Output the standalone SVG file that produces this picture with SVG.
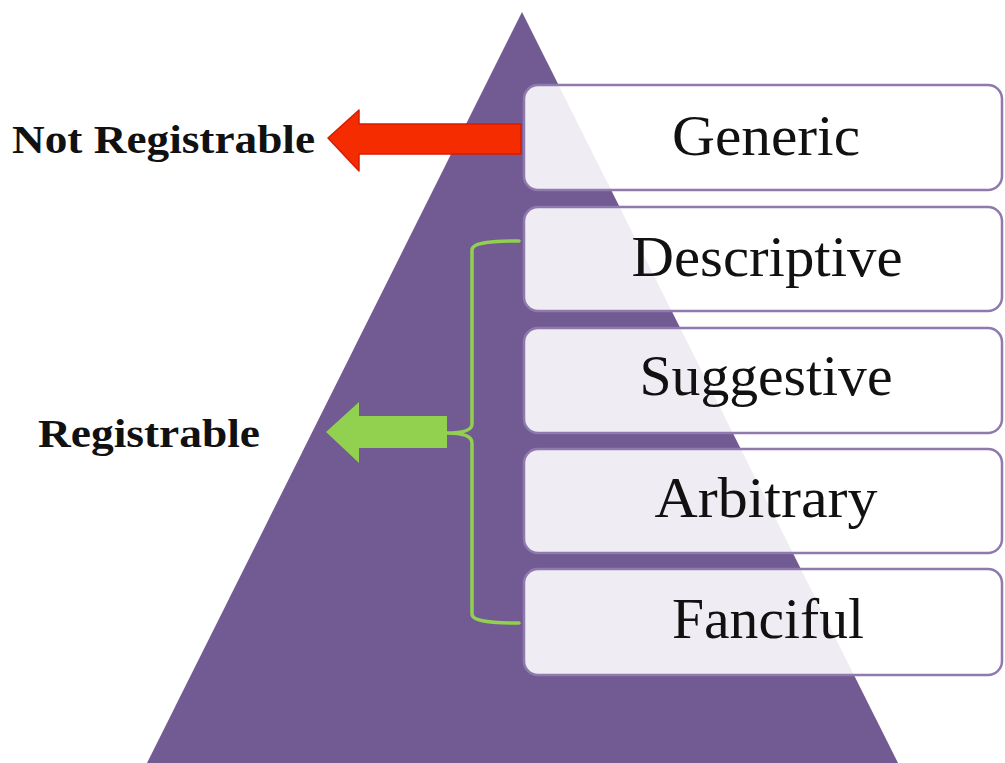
<svg xmlns="http://www.w3.org/2000/svg" width="1005" height="763" viewBox="0 0 1005 763">
<style>
.box{fill:#ffffff;fill-opacity:0.89;stroke:#8f7aae;stroke-width:2.5}
.lbl{font-family:"Liberation Serif",serif;font-size:56px;fill:#111;text-anchor:middle}
.side{font-family:"Liberation Serif",serif;font-weight:bold;font-size:40px;fill:#111}
.br{fill:none;stroke:#92d050;stroke-width:3.5;stroke-linecap:round}
</style>
<rect width="1005" height="763" fill="#ffffff"/>
<g id="pyramid"><polygon points="522,12 898,763 147,763" fill="#725a92"/></g>
<g id="generic"><rect class="box" x="524" y="85" width="478" height="105" rx="14"/><text class="lbl" x="766" y="155" textLength="188" lengthAdjust="spacingAndGlyphs">Generic</text></g>
<g id="descriptive"><rect class="box" x="524" y="207" width="478" height="104" rx="14"/><text class="lbl" x="767" y="276" textLength="271" lengthAdjust="spacingAndGlyphs">Descriptive</text></g>
<g id="suggestive"><rect class="box" x="524" y="328" width="478" height="105" rx="14"/><text class="lbl" x="766" y="395" textLength="253" lengthAdjust="spacingAndGlyphs">Suggestive</text></g>
<g id="arbitrary"><rect class="box" x="524" y="449" width="478" height="104" rx="14"/><text class="lbl" x="766" y="517" textLength="223" lengthAdjust="spacingAndGlyphs">Arbitrary</text></g>
<g id="fanciful"><rect class="box" x="524" y="569" width="478" height="106" rx="14"/><text class="lbl" x="768" y="638" textLength="192" lengthAdjust="spacingAndGlyphs">Fanciful</text></g>
<g id="not-registrable"><text class="side" x="12" y="153" textLength="303" lengthAdjust="spacingAndGlyphs">Not Registrable</text></g>
<g id="registrable"><text class="side" x="38" y="447" textLength="222" lengthAdjust="spacingAndGlyphs">Registrable</text></g>
<g id="connectors">
<polygon points="328,138 359,110 359,124 521,124 521,154 359,154 359,171" fill="#f52c00" stroke="#d81c00" stroke-width="1.5" stroke-linejoin="round"/>
<polygon points="326,432 359,402 359,416 447,416 447,448 359,448 359,463" fill="#92d050" stroke-linejoin="round"/>
<path class="br" d="M519,241 C495,241 472,242 472,250 L472,424 C472,431 462,433 447,433 C462,433 472,436 472,443 L472,614 C472,622 495,623 519,623"/>
</g>
</svg>
